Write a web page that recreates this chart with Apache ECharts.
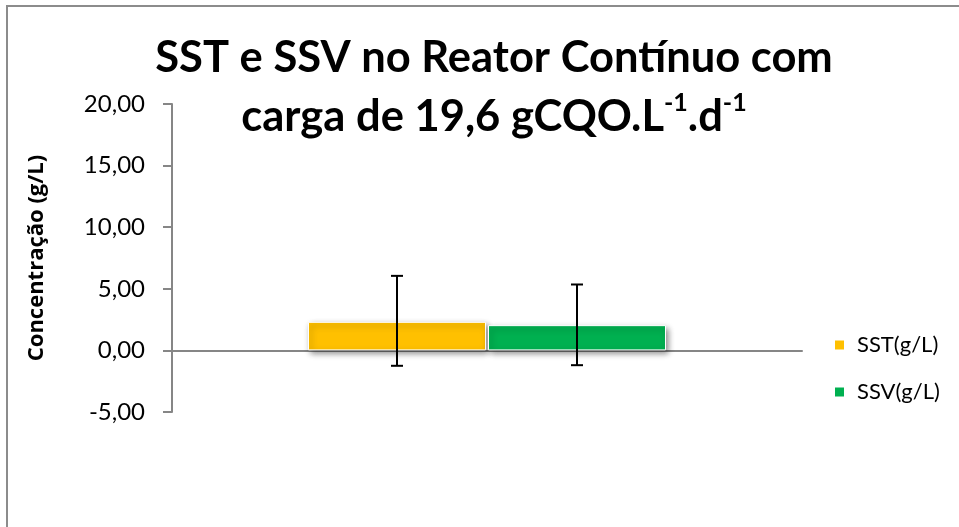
<!DOCTYPE html>
<html>
<head>
<meta charset="utf-8">
<script src="https://cdn.jsdelivr.net/npm/echarts@6/dist/echarts.min.js"></script>
<style>
  html, body { margin: 0; padding: 0; background: #fff; }
  #main { width: 959px; height: 527px; }
</style>
</head>
<body>
<div id="main"></div>
<script>
// dados
const categories = [""];
const seriesNames = ["SST(g/L)", "SSV(g/L)"];
const sstValues = [2.32];
const ssvValues = [2.05];
const sstErrLow = [-1.25];
const sstErrHigh = [6.05];
const ssvErrLow = [-1.2];
const ssvErrHigh = [5.35];
const yTicks = { min: -5, max: 20, interval: 5 };

const colors = ["#FFC000", "#00B050"];
const BAR_W = 178;
const BAR_GAP = 2;

var myChart = echarts.init(document.getElementById("main"));

// barra de erro desenhada a partir dos valores
function errorBar(offset) {
  return function (params, api) {
    var x = api.coord([api.value(0), 0])[0] + offset;
    var lo = api.coord([api.value(0), api.value(1)])[1];
    var hi = api.coord([api.value(0), api.value(2)])[1];
    var cap = 6;
    var style = { stroke: "#000", lineWidth: 2 };
    return {
      type: "group",
      children: [
        { type: "line", shape: { x1: x, y1: lo, x2: x, y2: hi }, style: style },
        { type: "line", shape: { x1: x - cap, y1: hi, x2: x + cap, y2: hi }, style: style },
        { type: "line", shape: { x1: x - cap, y1: lo, x2: x + cap, y2: lo }, style: style },
      ],
    };
  };
}

const off = BAR_W / 2 + BAR_GAP / 2;

var option = {
  animation: false,
  textStyle: { fontFamily: "Lato" },
  title: {
    text: "SST e SSV no Reator Contínuo com\ncarga de 19,6 gCQO.L{sup|-1}.d{sup|-1}",
    left: 489,
    textAlign: "center",
    top: 23,
    textStyle: {
      fontFamily: "Lato",
      fontSize: 43.5,
      fontWeight: "bold",
      color: "#000",
      lineHeight: 59,
      rich: {
        sup: {
          fontFamily: "Lato",
          fontSize: 25,
          fontWeight: "bold",
          color: "#000",
          verticalAlign: "top",
          padding: [3, 0, 0, 0],
        },
      },
    },
  },
  legend: {
    orient: "vertical",
    left: 828,
    top: 329,
    itemWidth: 11,
    itemHeight: 11,
    itemGap: 25,
    icon: "rect",
    data: seriesNames,
    textStyle: { fontFamily: "Lato", fontSize: 22, color: "#000", padding: [0, 0, 0, 7] },
  },
  grid: { left: 172, right: 157, top: 104, bottom: 115 },
  xAxis: {
    type: "category",
    data: categories,
    axisLine: { onZero: true, lineStyle: { color: "#868686", width: 2 } },
    axisTick: { show: false },
    axisLabel: { show: false },
  },
  yAxis: {
    type: "value",
    min: yTicks.min,
    max: yTicks.max,
    interval: yTicks.interval,
    name: "Concentração (g/L)",
    nameLocation: "middle",
    nameRotate: 90,
    nameGap: 124,
    nameTextStyle: { fontFamily: "Open Sans", fontSize: 22, fontWeight: "bold", color: "#000" },
    axisLine: { show: true, lineStyle: { color: "#868686", width: 2 } },
    axisTick: { show: true, length: 9, lineStyle: { color: "#868686", width: 2 } },
    splitLine: { show: false },
    axisLabel: {
      margin: 27,
      fontFamily: "Lato",
      fontSize: 24,
      color: "#000",
      formatter: function (v) {
        return v.toFixed(2).replace(".", ",");
      },
    },
  },
  graphic: [
    {
      type: "rect",
      shape: { x: 7, y: 6, width: 1000, height: 1000 },
      style: { fill: "none", stroke: "#8c8c8c", lineWidth: 2 },
      silent: true,
    },
  ],
  series: [
    {
      name: seriesNames[0],
      type: "bar",
      data: sstValues,
      barWidth: BAR_W,
      barGap: (BAR_GAP / BAR_W * 100) + "%",
      itemStyle: {
        color: colors[0],
        borderColor: "#fff",
        borderWidth: 1,
        shadowBlur: 6,
        shadowOffsetX: 2,
        shadowOffsetY: 3,
        shadowColor: "rgba(0,0,0,0.45)",
      },
      z: 2,
    },
    {
      name: seriesNames[1],
      type: "bar",
      data: ssvValues,
      barWidth: BAR_W,
      itemStyle: {
        color: colors[1],
        borderColor: "#fff",
        borderWidth: 1,
        shadowBlur: 6,
        shadowOffsetX: 2,
        shadowOffsetY: 3,
        shadowColor: "rgba(0,0,0,0.45)",
      },
      z: 2,
    },
    {
      type: "custom",
      renderItem: errorBar(-off),
      data: categories.map((c, i) => [i, sstErrLow[i], sstErrHigh[i]]),
      z: 5,
      silent: true,
    },
    {
      type: "custom",
      renderItem: errorBar(off),
      data: categories.map((c, i) => [i, ssvErrLow[i], ssvErrHigh[i]]),
      z: 5,
      silent: true,
    },
  ],
};

myChart.setOption(option);
</script>
</body>
</html>
